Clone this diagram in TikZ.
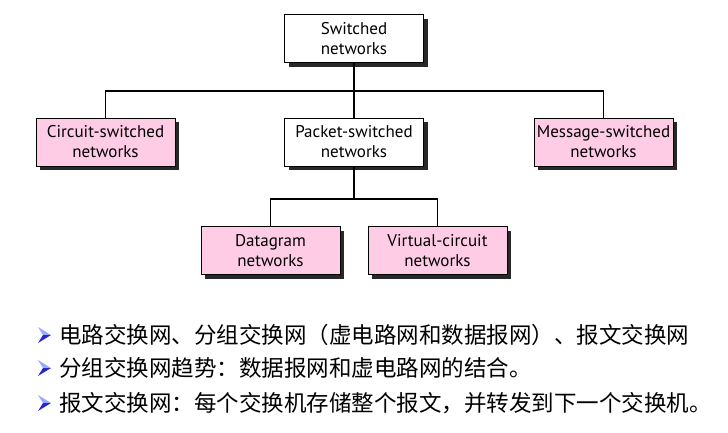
\documentclass[tikz,border=0pt]{standalone}
\usepackage{fontspec}
\setmainfont{PT Sans}
\newfontfamily\cjk{Noto Sans CJK SC}
\definecolor{pinkbox}{RGB}{255,204,230}
\definecolor{shadowgray}{RGB}{40,40,40}
\definecolor{bulletdark}{RGB}{40,40,200}
\definecolor{bulletlight}{RGB}{150,170,255}
\begin{document}
\begin{tikzpicture}[x=1pt,y=-1pt,
  boxsize/.style={minimum width=139pt, minimum height=48pt, inner sep=0pt},
  netbox/.style={boxsize, draw=black, line width=1pt,
    align=center, font=\fontsize{17}{20}\selectfont},
  pinknet/.style={netbox, fill=pinkbox},
  whitenet/.style={netbox, fill=white},
  boxshadow/.style={boxsize, fill=shadowgray},
  conn/.style={draw=black, line width=1.2pt},
  cjktext/.style={anchor=west, font=\cjk\fontsize{22.5}{24}\selectfont, inner sep=0pt}
]
\useasboundingbox (0,0) rectangle (728,432);
\fill[white] (0,0) rectangle (728,432);

\foreach \xx/\yy/\nm in {354/38.5/swsh, 105.5/142/cssh, 354/142/pssh, 603.5/142/mssh, 270.5/250.5/dgsh, 437.5/250.5/vcsh}{
  \node[boxshadow] (\nm) at (\xx+4,\yy+4) {};
}

\node[whitenet] (sw) at (354,38.5) {Switched\\networks};
\node[pinknet] (cs) at (105.5,142) {Circuit-switched\\networks};
\node[whitenet] (ps) at (354,142) {Packet-switched\\networks};
\node[pinknet] (ms) at (603.5,142) {Message-switched\\networks};
\node[pinknet] (dg) at (270.5,250.5) {Datagram\\networks};
\node[pinknet] (vc) at (437.5,250.5) {Virtual-circuit\\networks};

\coordinate (j1) at (354,91);
\coordinate (j2) at (354,199);
\draw[conn] (sw.south) -- (j1);
\draw[conn] (cs.north) |- (j1) -| (ms.north);
\draw[conn] (j1) -- (ps.north);
\draw[conn] (ps.south) -- (j2);
\draw[conn] (dg.north) |- (j2) -| (vc.north);

\foreach \yy/\nm in {335/b1,368/b2,403/b3}{
  \fill[bulletlight] (38,\yy-8) -- (51,\yy) -- (43,\yy) -- cycle;
  \fill[bulletdark] (38,\yy+8) -- (51,\yy) -- (43,\yy) -- cycle;
  \coordinate (\nm) at (59,\yy);
}
\node[cjktext] (t1) at (b1) {电路交换网、分组交换网（虚电路网和数据报网）、报文交换网};
\node[cjktext] (t2) at (b2) {分组交换网趋势：数据报网和虚电路网的结合。};
\node[cjktext] (t3) at (b3) {报文交换网：每个交换机存储整个报文，并转发到下一个交换机。};
\end{tikzpicture}
\end{document}
